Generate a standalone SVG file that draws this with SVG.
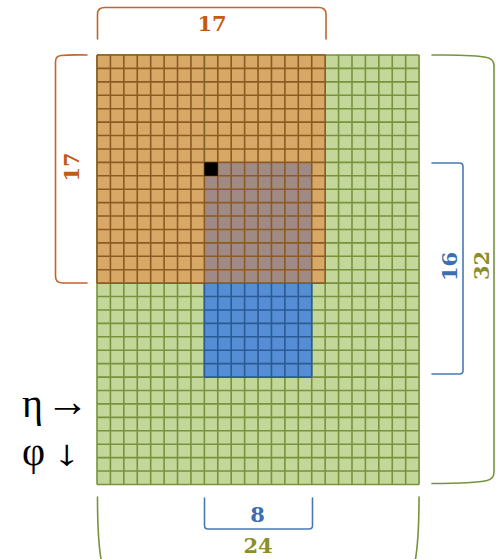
<svg xmlns="http://www.w3.org/2000/svg" width="496" height="559" viewBox="0 0 496 559">
<style>
.gl{fill:none;stroke-width:1.6;vector-effect:non-scaling-stroke}
.br{fill:none;stroke-width:1.6;stroke-linecap:round;stroke-linejoin:round}
.num{font-family:"DejaVu Serif","Liberation Serif",serif;font-weight:bold;font-size:21px;text-anchor:middle}
.sym{font-family:"Liberation Serif","DejaVu Serif",serif;fill:#000}
</style>
<rect width="496" height="559" fill="#fff"/>
<g id="grid" transform="translate(97,55) scale(13.42)">
  <rect x="0" y="0" width="24" height="32" fill="#C4D79B"/>
  <path class="gl" stroke="#77933C" d="M0 0V32M1 0V32M2 0V32M3 0V32M4 0V32M5 0V32M6 0V32M7 0V32M8 0V32M9 0V32M10 0V32M11 0V32M12 0V32M13 0V32M14 0V32M15 0V32M16 0V32M17 0V32M18 0V32M19 0V32M20 0V32M21 0V32M22 0V32M23 0V32M24 0V32M0 0H24M0 1H24M0 2H24M0 3H24M0 4H24M0 5H24M0 6H24M0 7H24M0 8H24M0 9H24M0 10H24M0 11H24M0 12H24M0 13H24M0 14H24M0 15H24M0 16H24M0 17H24M0 18H24M0 19H24M0 20H24M0 21H24M0 22H24M0 23H24M0 24H24M0 25H24M0 26H24M0 27H24M0 28H24M0 29H24M0 30H24M0 31H24M0 32H24"/>
  <g id="orange-region">
    <rect x="0" y="0" width="17" height="17" fill="#D8A867"/>
  </g>
  <g id="overlap-region">
    <rect x="8" y="8" width="8" height="9" fill="#A08A85"/>
  </g>
  <g id="blue-region">
    <rect x="8" y="17" width="8" height="7" fill="#558ED5"/>
  </g>
  <path class="gl" stroke="#8C5A22" d="M0 0V17M1 0V17M2 0V17M3 0V17M4 0V17M5 0V17M6 0V17M7 0V17M8 0V17M9 0V17M10 0V17M11 0V17M12 0V17M13 0V17M14 0V17M15 0V17M16 0V17M17 0V17M0 0H17M0 1H17M0 2H17M0 3H17M0 4H17M0 5H17M0 6H17M0 7H17M0 8H17M0 9H17M0 10H17M0 11H17M0 12H17M0 13H17M0 14H17M0 15H17M0 16H17M0 17H17"/>
  <path class="gl" stroke="#6E7A38" stroke-opacity="0.35" d="M8 0V8"/>
  <path class="gl" stroke="#2B5A94" d="M8 17V24M9 17V24M10 17V24M11 17V24M12 17V24M13 17V24M14 17V24M15 17V24M16 17V24M8 18H16M8 19H16M8 20H16M8 21H16M8 22H16M8 23H16M8 24H16"/>
  <rect id="black-cell" x="8" y="8" width="1" height="1" fill="#000"/>
</g>
<g id="connectors">
  <path class="br" stroke="#C0662B" d="M97.5,39 V14 Q97.5,7.5 105,7.5 H318.5 Q326,7.5 326,14 V39"/>
  <path class="br" stroke="#C0662B" d="M87,55 Q70,54.5 61,55.5 Q55.5,56 55.5,62 V276 Q55.5,282.5 62,283 H87"/>
  <path class="br" stroke="#4A78B5" d="M432,163 H459.5 Q463,163 463,166.5 V370.5 Q463,374 459.5,374 H432"/>
  <path class="br" stroke="#77933C" d="M432,55 Q475,54.5 487,57.5 Q494,59 494,66 V472 Q494,479 487,480.5 Q475,483.5 432,483.5"/>
  <path class="br" stroke="#4A78B5" d="M204.5,498 V525.5 Q204.5,529 208,529 H309 Q312.5,529 312.5,525.5 V498"/>
  <path class="br" stroke="#77933C" d="M97.5,497 Q97.5,538 101,559 M419,497 Q419,538 415.5,559"/>
</g>
<g id="labels">
  <text class="num" x="212" y="31" fill="#C55A11">17</text>
  <text class="num" transform="translate(79,167) rotate(-90)" fill="#C55A11">17</text>
  <text class="num" transform="translate(456.5,266.5) rotate(-90)" fill="#3D6EB0">16</text>
  <text class="num" transform="translate(489,265.5) rotate(-90)" fill="#8A8F2A">32</text>
  <text class="num" x="257.5" y="521.5" fill="#3D6EB0">8</text>
  <text class="num" x="258" y="552.5" fill="#8A8F2A">24</text>
  <text class="sym" x="22" y="417" font-size="40">η</text>
  <text class="sym" x="46" y="416" font-size="43">→</text>
  <text class="sym" x="22" y="465" font-size="40">φ</text>
  <text class="sym" transform="translate(67,465) scale(1.5,1)" text-anchor="middle" font-size="36">↓</text>
</g>
</svg>
